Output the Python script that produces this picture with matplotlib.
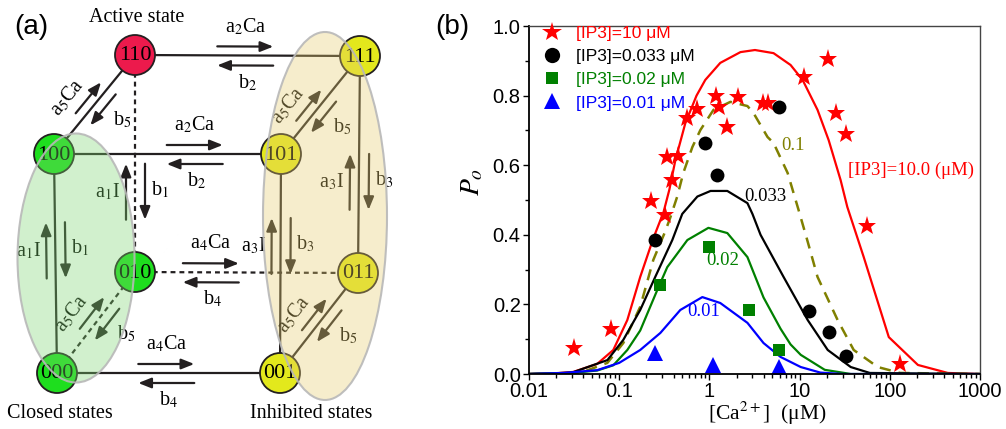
import numpy as np
import matplotlib
matplotlib.use('Agg')
import matplotlib.pyplot as plt
from matplotlib.patches import Circle, Ellipse
from matplotlib.lines import Line2D
from matplotlib.ticker import LogLocator, NullFormatter, MultipleLocator

plt.rcParams['mathtext.fontset'] = 'stix'
plt.rcParams['font.family'] = ['Liberation Sans', 'DejaVu Sans']
SERIF = ['Liberation Serif', 'DejaVu Serif']

# ---- measured open probability (symbols)
ca_ip3_10 = [0.0316, 0.081, 0.227, 0.324, 0.341, 0.388, 0.453, 0.57, 0.736, 1.17, 1.29,
             1.58, 2.1, 3.88, 4.5, 11.1, 20.5, 25.1, 32.4, 55.5, 129]
po_ip3_10 = [0.075, 0.13, 0.497, 0.457, 0.624, 0.557, 0.626, 0.736, 0.761, 0.799, 0.767,
             0.71, 0.796, 0.779, 0.779, 0.853, 0.905, 0.75, 0.69, 0.425, 0.029]
ca_ip3_033 = [0.251, 0.903, 1.2, 5.84, 12.6, 21.0, 32.4]
po_ip3_033 = [0.385, 0.664, 0.572, 0.767, 0.181, 0.121, 0.052]
ca_ip3_02 = [0.286, 1.0, 2.78, 5.84]
po_ip3_02 = [0.256, 0.365, 0.184, 0.069]
ca_ip3_01 = [0.25, 1.1, 5.84]
po_ip3_01 = [0.06, 0.026, 0.02]

# ---- model curves
fit_ca_10 = [0.01, 0.02, 0.031, 0.057, 0.086, 0.123, 0.171, 0.239, 0.31, 0.36, 0.42, 0.54,
             0.72, 0.9, 1.32, 2.21, 3.2, 5.14, 7.94, 10.8, 15.8, 21, 28.5, 33.8, 51.4,
             97.5, 205, 440, 1000]
fit_po_10 = [0.0, 0.002, 0.006, 0.029, 0.069, 0.155, 0.279, 0.39, 0.465, 0.53, 0.615, 0.72,
             0.80, 0.845, 0.894, 0.925, 0.931, 0.922, 0.888, 0.845, 0.759, 0.672, 0.557,
             0.48, 0.336, 0.106, 0.026, 0.003, 0.0]
fit_ca_1 = [0.01, 0.037, 0.074, 0.111, 0.171, 0.239, 0.324, 0.369, 0.44, 0.514, 0.647,
            0.794, 1.11, 1.71, 2.64, 3.08, 4.41, 5.14, 7.36, 9.75, 12.3, 15.8, 26.4, 39.8,
            73.6, 130, 1000]
fit_po_1 = [0.0, 0.003, 0.032, 0.089, 0.193, 0.328, 0.41, 0.45, 0.51, 0.578, 0.652, 0.701,
            0.759, 0.782, 0.77, 0.75, 0.681, 0.664, 0.578, 0.471, 0.38, 0.279, 0.155, 0.069,
            0.02, 0.003, 0.0]
fit_ca_033 = [0.01, 0.03, 0.074, 0.111, 0.171, 0.251, 0.388, 0.5, 0.736, 1.03, 1.58, 2.64,
              3.0, 3.69, 6.64, 12.3, 20.5, 36.9, 60, 1000]
fit_po_033 = [0.0, 0.004, 0.04, 0.098, 0.184, 0.279, 0.385, 0.46, 0.51, 0.526, 0.526, 0.491,
              0.46, 0.40, 0.279, 0.155, 0.069, 0.02, 0.003, 0.0]
fit_ca_02 = [0.01, 0.03, 0.057, 0.086, 0.123, 0.171, 0.264, 0.341, 0.57, 0.975, 1.58, 2.64,
             3.98, 6.15, 7.94, 10.3, 19, 37, 1000]
fit_po_02 = [0.0, 0.003, 0.01, 0.025, 0.069, 0.125, 0.241, 0.307, 0.385, 0.42, 0.405, 0.336,
             0.22, 0.13, 0.085, 0.055, 0.012, 0.0, 0.0]
fit_ca_01 = [0.01, 0.024, 0.057, 0.1, 0.171, 0.286, 0.476, 0.835, 1.32, 2.64, 3.98, 6.15,
             10.3, 17, 30, 1000]
fit_po_01 = [0.0, 0.003, 0.011, 0.032, 0.069, 0.118, 0.184, 0.221, 0.204, 0.147, 0.089,
             0.049, 0.02, 0.004, 0.0, 0.0]

legend_labels = ['[IP3]=10 \u03bcM', '[IP3]=0.033 \u03bcM', '[IP3]=0.02 \u03bcM',
                 '[IP3]=0.01 \u03bcM']
xtick_vals = [0.01, 0.1, 1, 10, 100, 1000]
xtick_labels = ['0.01', '0.1', '1', '10', '100', '1000']
ytick_vals = [0.0, 0.2, 0.4, 0.6, 0.8, 1.0]
ytick_labels = ['0.0', '0.2', '0.4', '0.6', '0.8', '1.0']

# ---- state scheme, panel (a), laid out in pixel units
node_xy = {'110': (135, 55), '111': (360, 56), '100': (54, 154), '101': (281, 154),
           '010': (135, 272), '011': (358, 273), '000': (57, 373), '001': (280, 373)}
node_fill = {'110': '#ec1a4c', '111': '#e3e81c', '101': '#e3e81c', '011': '#e3e81c',
             '001': '#e3e81c', '100': '#1ede1e', '010': '#1ede1e', '000': '#1ede1e'}
solid_edges = [('110', '111'), ('110', '100'), ('100', '101'), ('100', '000'),
               ('000', '001'), ('101', '111'), ('101', '001'), ('111', '011'),
               ('011', '001')]
dashed_edges = [('110', '010'), ('010', '011'), ('010', '000')]
# (from, to, position along edge, forward rate, backward rate)
rate_pairs = [('110', '111', 0.49, 'a$_2$Ca', 'b$_2$'),
              ('100', '101', 0.62, 'a$_2$Ca', 'b$_2$'),
              ('010', '011', 0.34, 'a$_4$Ca', 'b$_4$'),
              ('000', '001', 0.49, 'a$_4$Ca', 'b$_4$'),
              ('000', '100', 0.56, 'a$_1$I', 'b$_1$'),
              ('010', '110', 0.37, 'a$_1$I', 'b$_1$'),
              ('001', '101', 0.58, 'a$_3$I', 'b$_3$'),
              ('011', '111', 0.42, 'a$_3$I', 'b$_3$'),
              ('100', '110', 0.51, 'a$_5$Ca', 'b$_5$'),
              ('000', '010', 0.54, 'a$_5$Ca', 'b$_5$'),
              ('101', '111', 0.44, 'a$_5$Ca', 'b$_5$'),
              ('001', '011', 0.53, 'a$_5$Ca', 'b$_5$')]

INK = '#231f20'

fig = plt.figure(figsize=(10.06, 4.29), dpi=100)
ax_a = fig.add_axes([0, 0, 1, 1])
ax_a.set_xlim(0, 1006)
ax_a.set_ylim(429, 0)
ax_a.axis('off')


def draw_arrow(ax, p0, p1):
    ax.annotate('', xy=p1, xytext=p0, zorder=2,
                arrowprops=dict(arrowstyle='-|>,head_length=0.7,head_width=0.28',
                                lw=1.6, color=INK, shrinkA=0, shrinkB=0,
                                mutation_scale=11))


for a, b in solid_edges:
    (x0, y0), (x1, y1) = node_xy[a], node_xy[b]
    ax_a.plot([x0, x1], [y0, y1], color=INK, lw=1.6, zorder=1)
for a, b in dashed_edges:
    (x0, y0), (x1, y1) = node_xy[a], node_xy[b]
    ax_a.plot([x0, x1], [y0, y1], color=INK, lw=1.6, ls=(0, (2.2, 1.8)), zorder=1)

for src, dst, t, a_txt, b_txt in rate_pairs:
    p = np.array(node_xy[src], float)
    q = np.array(node_xy[dst], float)
    u = (q - p) / np.hypot(*(q - p))
    n = np.array([u[1], -u[0]])
    c = p + t * (q - p)
    diag = abs(u[0]) > 0.2 and abs(u[1]) > 0.2
    half = 20 if diag else 28
    fwd = c + 9 * n
    bwd = c - 10 * n
    draw_arrow(ax_a, fwd - half * u, fwd + half * u)
    draw_arrow(ax_a, bwd + half * u, bwd - half * u)
    if diag:
        ang = np.degrees(np.arctan2(-u[1], u[0]))
        pa = c + 25 * n - 13 * u
        pb = c - 31 * n + 4 * u
        ax_a.text(pa[0], pa[1], a_txt, rotation=ang, family=SERIF, fontsize=14.5,
                  ha='center', va='center', zorder=2, rotation_mode='anchor')
    else:
        off_a, off_b = (29, 27) if abs(u[0]) > 0.5 else (27, 25)
        pa = c + off_a * n
        pb = c - off_b * n + 2 * u
        ax_a.text(pa[0], pa[1], a_txt, family=SERIF, fontsize=14.5,
                  ha='center', va='center', zorder=2)
    ax_a.text(pb[0], pb[1], b_txt, family=SERIF, fontsize=14.5,
              ha='center', va='center', zorder=2)

for name, (x, y) in node_xy.items():
    ax_a.add_patch(Circle((x, y), 20, facecolor=node_fill[name], edgecolor=INK,
                          lw=1.3, zorder=3))
    ax_a.text(x, y + 1, name, family=SERIF, fontsize=16, ha='center', va='center',
              zorder=4)

# state groups
ax_a.add_patch(Ellipse((76, 258), 117, 249, facecolor=(0.49, 0.83, 0.44, 0.35),
                       edgecolor=(0.72, 0.72, 0.72, 0.9), lw=1.5, zorder=5))
ax_a.add_patch(Ellipse((325, 216), 124, 368, facecolor=(0.90, 0.80, 0.43, 0.35),
                       edgecolor=(0.72, 0.72, 0.72, 0.9), lw=1.5, zorder=5))

ax_a.text(137, 17, 'Active state', family=SERIF, fontsize=14.5, ha='center', va='center')
ax_a.text(60, 414, 'Closed states', family=SERIF, fontsize=14.5, ha='center', va='center')
ax_a.text(311, 414, 'Inhibited states', family=SERIF, fontsize=14.5, ha='center',
          va='center')
ax_a.text(31, 27, '(a)', fontsize=20, ha='center', va='center')
ax_a.text(452, 27, '(b)', fontsize=20, ha='center', va='center')

# ---- open probability vs Ca2+
ax = fig.add_axes([529 / 1006, 1 - 374 / 429, 451 / 1006, 348 / 429])
ax.set_xscale('log')

ax.plot(fit_ca_10, fit_po_10, color='#ff0000', lw=1.6)
ax.plot(fit_ca_1, fit_po_1, color='#808000', lw=1.8, dashes=(4.5, 3.2))
ax.plot(fit_ca_033, fit_po_033, color='black', lw=1.6)
ax.plot(fit_ca_02, fit_po_02, color='#008000', lw=1.6)
ax.plot(fit_ca_01, fit_po_01, color='#0000ff', lw=1.6)

ax.plot(ca_ip3_10, po_ip3_10, ls='none', marker='*', ms=14, color='#ff0000', mew=0)
ax.plot(ca_ip3_033, po_ip3_033, ls='none', marker='o', ms=10, color='black', mew=0)
ax.plot(ca_ip3_02, po_ip3_02, ls='none', marker='s', ms=9, color='#008000', mew=0)
ax.plot(ca_ip3_01, po_ip3_01, ls='none', marker='^', ms=11, color='#0000ff', mew=0)

ax.text(6.2, 0.658, '0.1', family=SERIF, fontsize=13.5, color='#808000',
        ha='left', va='center')
ax.text(4.2, 0.509, '0.033', family=SERIF, fontsize=13.5, color='black',
        ha='center', va='center')
ax.text(1.4, 0.325, '0.02', family=SERIF, fontsize=13.5, color='#008000',
        ha='center', va='center')
ax.text(0.86, 0.181, '0.01', family=SERIF, fontsize=13.5, color='#0000ff',
        ha='center', va='center')
ax.text(34, 0.586, '[IP3]=10.0 (\u03bcM)', family=SERIF, fontsize=13.5,
        color='#ff0000', ha='left', va='center')

handles = [Line2D([], [], ls='none', marker='*', ms=15, color='#ff0000', mew=0),
           Line2D([], [], ls='none', marker='o', ms=11, color='black', mew=0),
           Line2D([], [], ls='none', marker='s', ms=9, color='#008000', mew=0),
           Line2D([], [], ls='none', marker='^', ms=12, color='#0000ff', mew=0)]
ax.legend(handles, legend_labels, loc='upper left', bbox_to_anchor=(0, 1.04),
          frameon=False, fontsize=12.5, borderaxespad=0.8, borderpad=0,
          handlelength=1.0, handletextpad=0.9, labelspacing=0.46,
          labelcolor=['#ff0000', 'black', '#008000', '#0000ff'])

ax.set_xlim(0.01, 1000)
ax.set_ylim(0, 1.0)
ax.set_xticks(xtick_vals)
ax.set_xticklabels(xtick_labels)
ax.xaxis.set_minor_locator(LogLocator(base=10, subs=np.arange(2, 10)))
ax.xaxis.set_minor_formatter(NullFormatter())
ax.set_yticks(ytick_vals)
ax.set_yticklabels(ytick_labels)
ax.yaxis.set_minor_locator(MultipleLocator(0.1))
ax.tick_params(which='both', direction='out', labelsize=14.5, width=1.0, pad=2,
               top=False, right=False)
ax.tick_params(which='major', length=4)
ax.tick_params(which='minor', length=3)
for side in ['left', 'bottom']:
    ax.spines[side].set_linewidth(1.3)
for side in ['top', 'right']:
    ax.spines[side].set_linewidth(1.0)
    ax.spines[side].set_color('#444444')

ax.set_xlabel('[Ca$^{2+}$]  (\u03bcM)', family=SERIF, fontsize=15.5)
ax.xaxis.set_label_coords(0.528, -0.112)
ax.xaxis.label.set_va('center')
ax.set_ylabel('$P_o$', fontsize=20)
ax.yaxis.set_label_coords(-0.126, 0.552)
ax.yaxis.label.set_va('center')

fig.savefig('out.png', dpi=100)
